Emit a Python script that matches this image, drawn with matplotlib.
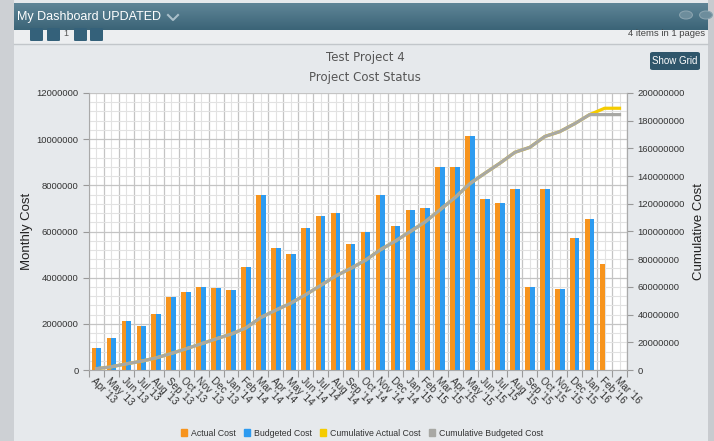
import numpy as np
import matplotlib
matplotlib.use("Agg")
import matplotlib.pyplot as plt
from matplotlib.patches import Rectangle, FancyBboxPatch, Patch, Circle
from matplotlib.lines import Line2D
from matplotlib.ticker import FuncFormatter, MultipleLocator, FixedLocator

plt.rcParams['font.family'] = ['Liberation Sans', 'DejaVu Sans']

# data
months = ["Apr '13", "May '13", "Jun '13", "Jul '13", "Aug '13", "Sep '13", "Oct '13", "Nov '13",
          "Dec '13", "Jan '14", "Feb '14", "Mar '14", "Apr '14", "May '14", "Jun '14", "Jul '14",
          "Aug '14", "Sep '14", "Oct '14", "Nov '14", "Dec '14", "Jan '15", "Feb '15", "Mar '15",
          "Apr '15", "May '15", "Jun '15", "Jul '15", "Aug '15", "Sep '15", "Oct '15", "Nov '15",
          "Dec '15", "Jan '16", "Feb '16", "Mar '16"]
actual_cost = [950000, 1370000, 2130000, 1900000, 2420000, 3150000, 3390000, 3590000,
               3550000, 3450000, 4450000, 7580000, 5280000, 5030000, 6160000, 6650000,
               6800000, 5440000, 5960000, 7590000, 6230000, 6930000, 7000000, 8800000,
               8800000, 10120000, 7400000, 7230000, 7840000, 3590000, 7820000, 3510000,
               5740000, 6540000, 4600000, 0]
budgeted_cost = [950000, 1370000, 2130000, 1900000, 2420000, 3150000, 3390000, 3590000,
                 3550000, 3450000, 4450000, 7580000, 5280000, 5030000, 6160000, 6650000,
                 6800000, 5440000, 5960000, 7590000, 6230000, 6930000, 7000000, 8800000,
                 8800000, 10120000, 7400000, 7230000, 7840000, 3590000, 7820000, 3510000,
                 5740000, 6540000, 0, 0]
cum_actual = np.cumsum(actual_cost)
cum_budgeted = np.cumsum(budgeted_cost)

C_ACT = "#f7941d"
C_BUD = "#2d9bf0"
C_CUMA = "#f5cc00"
C_CUMB = "#a8a8a4"

W, H = 714, 441
fig = plt.figure(figsize=(W / 100, H / 100), dpi=100)
fig.patch.set_facecolor("#e6e9ec")


def fx(px):
    return px / W


def fy(py):
    return 1 - py / H


def frect(x0, y0, x1, y1, color, **kw):
    fig.patches.append(Rectangle((fx(x0), fy(y1)), fx(x1) - fx(x0), fy(y0) - fy(y1),
                                 transform=fig.transFigure, facecolor=color,
                                 edgecolor="none", **kw))


# dashboard chrome
frect(0, 0, 14, H, "#cdd0d4")
frect(708, 0, W, H, "#c8cbcf")
frect(14, 30, 708, 44, "#eceef0")
fig.lines.append(Line2D([fx(14), fx(708)], [fy(44), fy(44)], transform=fig.transFigure,
                        color="#c2c6ca", lw=1))

hdr = fig.add_axes([fx(13), fy(30), 1 - fx(13), 27 / H])
grad = np.linspace(0, 1, 50).reshape(-1, 1)
hdr.imshow(grad, aspect="auto", cmap=matplotlib.colors.LinearSegmentedColormap.from_list(
    "hdr", ["#5f8597", "#3b6477"]), extent=[0, 1, 0, 1], origin="upper")
hdr.axis("off")
fig.text(fx(17), fy(17), "My Dashboard UPDATED", color="white", fontsize=9,
         va="center", ha="left")
fig.lines.append(Line2D([fx(168), fx(173), fx(178)], [fy(15), fy(20), fy(15)],
                        transform=fig.transFigure, color="#a9bfca", lw=1.5))
for cx in (686, 706):
    fig.patches.append(Circle((fx(cx), fy(15)), 0.009, transform=fig.transFigure,
                              facecolor="#6d8d9c", edgecolor="#8aa3af", lw=0.8))

for bx in (30, 47, 74, 90):
    fig.patches.append(FancyBboxPatch((fx(bx), fy(41)), 13 / W, 13 / H,
                                      boxstyle="round,pad=0,rounding_size=0.002",
                                      transform=fig.transFigure, facecolor="#34617a",
                                      edgecolor="none"))
fig.text(fx(66), fy(34), "1", fontsize=6.5, color="#555555", ha="center", va="center")
fig.text(fx(705), fy(34), "4 items in 1 pages", fontsize=6.8, color="#444444",
         ha="right", va="center")

fig.patches.append(FancyBboxPatch((fx(650), fy(70)), 50 / W, 18 / H,
                                  boxstyle="round,pad=0,rounding_size=0.004",
                                  transform=fig.transFigure, facecolor="#2f566b",
                                  edgecolor="none"))
fig.text(fx(675), fy(61), "Show Grid", fontsize=7, color="white", ha="center", va="center")

fig.text(fx(365), fy(58), "Test Project 4", fontsize=8.5, color="#555555", ha="center",
         va="center", family=["DejaVu Sans"])
fig.text(fx(365), fy(77), "Project Cost Status", fontsize=8.5, color="#555555", ha="center",
         va="center", family=["DejaVu Sans"])

# chart
ax = fig.add_axes([fx(89), fy(370), fx(627) - fx(89), fy(93) - fy(370)])
ax.set_facecolor("white")
x = np.arange(len(months))
bw = 0.32
ax.bar(x - bw / 2, actual_cost, bw, color=C_ACT, zorder=2)
ax.bar(x + bw / 2, budgeted_cost, bw, color=C_BUD, zorder=2)
ax.set_xlim(-0.5, len(months) - 0.5)
ax.set_ylim(0, 12000000)
ax.yaxis.set_major_locator(MultipleLocator(2000000))
ax.yaxis.set_minor_locator(MultipleLocator(400000))
ax.yaxis.set_major_formatter(FuncFormatter(lambda v, p: f"{int(v)}"))
ax.xaxis.set_major_locator(FixedLocator(np.arange(len(months) + 1) - 0.5))
ax.xaxis.set_major_formatter(FuncFormatter(lambda v, p: ""))
ax.set_xticks(x, months, minor=True)
ax.tick_params(axis="x", which="minor", length=0, pad=4, labelsize=7.2, colors="#333333")
ax.tick_params(axis="x", which="major", length=5, color="#999999")
ax.tick_params(axis="y", which="major", length=4, labelsize=6.8, colors="#333333",
               color="#999999")
ax.tick_params(axis="y", which="minor", length=0)
for lbl in ax.get_xticklabels(minor=True):
    lbl.set_rotation(-45)
    lbl.set_ha("left")
    lbl.set_va("top")
    lbl.set_rotation_mode("anchor")
ax.grid(which="major", color="#c4c4c4", lw=0.9)
ax.grid(which="minor", color="#e2e2e2", lw=0.8)
ax.set_axisbelow(True)
ax.spines["top"].set_visible(False)
for s in ("left", "right", "bottom"):
    ax.spines[s].set_color("#aaaaaa")
ax.set_ylabel("Monthly Cost", fontsize=9.5, color="#222222")
ax.yaxis.set_label_coords(-0.104, 0.5)

ax2 = ax.twinx()
ax2.plot(x, cum_actual, color=C_CUMA, lw=2.3, zorder=2)
ax2.plot(x, cum_budgeted, color=C_CUMB, lw=2.3, zorder=3)
ax2.set_ylim(0, 200000000)
ax2.yaxis.set_major_locator(MultipleLocator(20000000))
ax2.yaxis.set_major_formatter(FuncFormatter(lambda v, p: f"{int(v)}"))
ax2.tick_params(axis="y", length=4, labelsize=6.8, colors="#333333", color="#999999")
for s in ("top", "left", "bottom"):
    ax2.spines[s].set_visible(False)
ax2.spines["right"].set_color("#aaaaaa")
ax2.set_ylabel("Cumulative Cost", fontsize=9.5, color="#222222")
ax2.yaxis.set_label_coords(1.122, 0.5)

handles = [Patch(color=C_ACT), Patch(color=C_BUD), Patch(color=C_CUMA), Patch(color=C_CUMB)]
labels = ["Actual Cost", "Budgeted Cost", "Cumulative Actual Cost", "Cumulative Budgeted Cost"]
fig.legend(handles, labels, loc="center", bbox_to_anchor=(fx(362), fy(433)), ncol=4,
           frameon=False, fontsize=6.3, handlelength=0.7, handleheight=0.7,
           handletextpad=0.5, columnspacing=0.9, labelcolor="#333333")

fig.savefig("out.png", dpi=100, facecolor=fig.get_facecolor())
